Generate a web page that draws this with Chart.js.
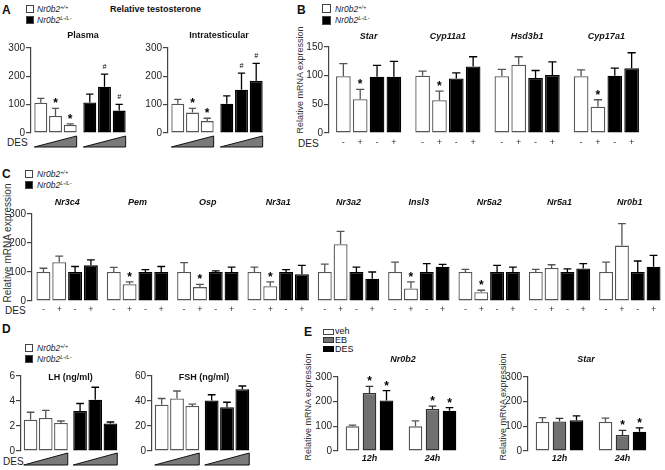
<!DOCTYPE html>
<html>
<head>
<meta charset="utf-8">
<script src="https://cdn.jsdelivr.net/npm/chart.js@4.4.1/dist/chart.umd.min.js"></script>
<style>
body { margin: 0; width: 665px; height: 470px; position: relative; background: #fff; overflow: hidden;
       font-family: 'Liberation Sans', Arial, sans-serif; color: #111; }
canvas { position: absolute; }
.t { position: absolute; white-space: nowrap; line-height: 1; }
.let { font-weight: bold; font-size: 12px; }
.lg { font-style: italic; font-size: 8.5px; color: #222; }
.lg span { font-size: 5.5px; position: relative; top: -3px; }
.des { font-size: 10px; color: #222; }
.sq { position: absolute; box-sizing: border-box; border: 1px solid #444; }
.yt { position: absolute; transform: translate(-50%, -50%) rotate(-90deg); white-space: nowrap;
      line-height: 1; color: #333; }
</style>
</head>
<body>
<!-- panel letters, legends and loose labels -->
<div class="t let" style="left:2px;top:4px">A</div>
<div class="sq" style="left:26px;top:5px;width:8px;height:8px;background:#fff"></div>
<div class="t lg" style="left:37px;top:5px">Nr0b2<span>+/+</span></div>
<div class="sq" style="left:26px;top:16px;width:8px;height:8px;background:#000"></div>
<div class="t lg" style="left:37px;top:16px">Nr0b2<span>L-/L-</span></div>
<div class="t" style="left:110px;top:5px;font-size:9px;font-weight:bold">Relative testosterone</div>
<div class="t des" style="left:7px;top:138px">DES</div>

<div class="t let" style="left:297px;top:4px">B</div>
<div class="sq" style="left:322px;top:4px;width:9px;height:9px;background:#fff"></div>
<div class="t lg" style="left:335px;top:5px">Nr0b2<span>+/+</span></div>
<div class="sq" style="left:322px;top:16px;width:9px;height:9px;background:#000"></div>
<div class="t lg" style="left:335px;top:16px">Nr0b2<span>L-/L-</span></div>
<div class="yt" style="left:300px;top:80px;font-size:9px">Relative mRNA expression</div>
<div class="t des" style="left:298px;top:139px">DES</div>

<div class="t let" style="left:2px;top:168px">C</div>
<div class="sq" style="left:25px;top:170px;width:8px;height:8px;background:#fff"></div>
<div class="t lg" style="left:37px;top:170px">Nr0b2<span>+/+</span></div>
<div class="sq" style="left:25px;top:181px;width:8px;height:8px;background:#000"></div>
<div class="t lg" style="left:37px;top:181px">Nr0b2<span>L-/L-</span></div>
<div class="yt" style="left:8px;top:243px;font-size:10px">Relative mRNA expression</div>
<div class="t des" style="left:5px;top:306px">DES</div>

<div class="t let" style="left:2px;top:323px">D</div>
<div class="sq" style="left:25px;top:344px;width:8px;height:8px;background:#fff"></div>
<div class="t lg" style="left:37px;top:344px">Nr0b2<span>+/+</span></div>
<div class="sq" style="left:25px;top:355px;width:8px;height:8px;background:#000"></div>
<div class="t lg" style="left:37px;top:355px">Nr0b2<span>L-/L-</span></div>
<div class="t des" style="left:3px;top:457px">DES</div>

<div class="t let" style="left:304px;top:326px">E</div>
<div class="sq" style="left:323px;top:329px;width:11px;height:6px;background:#fff"></div>
<div class="t" style="left:335px;top:327px;font-size:9px">veh</div>
<div class="sq" style="left:323px;top:337px;width:11px;height:6px;background:#707070;border-color:#333"></div>
<div class="t" style="left:335px;top:336px;font-size:9px">EB</div>
<div class="sq" style="left:323px;top:346px;width:11px;height:6px;background:#000;border-color:#000"></div>
<div class="t" style="left:335px;top:345px;font-size:9px">DES</div>
<div class="yt" style="left:308px;top:407px;font-size:9px">Relative mRNA expression</div>
<div class="yt" style="left:503px;top:407px;font-size:9px">Relative mRNA expression</div>

<canvas id="cPlasma"></canvas>
<canvas id="cIntra"></canvas>
<canvas id="cB"></canvas>
<canvas id="cC"></canvas>
<canvas id="cLH"></canvas>
<canvas id="cFSH"></canvas>
<canvas id="cENr"></canvas>
<canvas id="cEStar"></canvas>

<script>
// ---- data (means and SEM) ----
const genotypes = ['Nr0b2+/+', 'Nr0b2L-/L-'];
const desDoses = ['low', 'mid', 'high'];
const desSigns = ['-', '+', '-', '+'];

// A: relative testosterone
const plasmaWt = [107, 60, 28];
const plasmaWtSem = [15, 27, 4];
const plasmaKo = [108, 163, 79];
const plasmaKoSem = [29, 45, 22];
const plasmaWtSig = ['', '*', '*'];
const plasmaKoSig = ['', '#', '#'];
const intraWt = [103, 72, 42];
const intraWtSem = [16, 15, 10];
const intraKo = [103, 153, 184];
const intraKoSem = [28, 58, 62];
const intraWtSig = ['', '*', '*'];
const intraKoSig = ['', '#', '#'];

// B: steroidogenic genes
const bGenes = ['Star', 'Cyp11a1', 'Hsd3b1', 'Cyp17a1'];
const bWtVeh = [99, 100, 99, 99];
const bWtVehSem = [22, 8, 12, 11];
const bWtDes = [59, 57, 119, 46];
const bWtDesSem = [17, 16, 14, 12];
const bKoVeh = [98, 95, 96, 100];
const bKoVehSem = [20, 10, 13, 13];
const bKoDes = [98, 116, 101, 113];
const bKoDesSem = [27, 17, 23, 27];
const bWtDesSig = ['*', '*', '', '*'];

// C: other testis genes
const cGenes = ['Nr3c4', 'Pem', 'Osp', 'Nr3a1', 'Nr3a2', 'Insl3', 'Nr5a2', 'Nr5a1', 'Nr0b1'];
const cWtVeh = [100, 100, 100, 100, 100, 100, 100, 100, 100];
const cWtVehSem = [13, 16, 32, 17, 27, 34, 9, 9, 34];
const cWtDes = [134, 58, 48, 51, 196, 43, 30, 114, 191];
const cWtDesSem = [21, 8, 9, 15, 44, 23, 7, 11, 76];
const cKoVeh = [100, 100, 100, 100, 100, 100, 100, 100, 100];
const cKoVehSem = [19, 8, 4, 8, 17, 29, 23, 11, 38];
const cKoDes = [123, 100, 100, 92, 77, 118, 100, 112, 118];
const cKoDesSem = [19, 19, 17, 31, 23, 8, 17, 17, 39];
const cWtDesSig = ['', '*', '*', '*', '', '*', '*', '', ''];

// D: gonadotropins
const lhWt = [2.5, 2.65, 2.25];
const lhWtSem = [0.6, 0.6, 0.15];
const lhKo = [3.2, 4.1, 2.2];
const lhKoSem = [0.6, 1.0, 0.12];
const fshWt = [37, 42, 36];
const fshWtSem = [5, 6, 1.5];
const fshKo = [40.5, 35, 49.5];
const fshKoSem = [4.5, 4, 2.5];

// E: time course after EB / DES
const eTimes = ['12h', '24h'];
const eNr0b2Veh = [100, 100];
const eNr0b2VehSem = [5, 22];
const eNr0b2Eb = [235, 170];
const eNr0b2EbSem = [27, 12];
const eNr0b2Des = [205, 163];
const eNr0b2DesSem = [40, 13];
const eNr0b2EbSig = ['*', '*'];
const eNr0b2DesSig = ['*', '*'];
const eStarVeh = [118, 118];
const eStarVehSem = [17, 15];
const eStarEb = [120, 65];
const eStarEbSem = [12, 19];
const eStarDes = [125, 78];
const eStarDesSem = [17, 16];
const eStarEbSig = ['', '*'];
const eStarDesSig = ['', '*'];

const FONT = "'Liberation Sans', Arial, sans-serif";
Chart.defaults.font.family = FONT;
Chart.defaults.color = '#222';

const pick = (v, i) => Array.isArray(v) ? v[i] : v;

// y tick labels, error bars, significance marks, DES wedges, -/+ row and group names
const decor = {
    id: 'decor',
    afterDatasetsDraw(chart, args, o) {
        const { ctx, chartArea: a, scales: { y } } = chart;
        const groups = chart.data.labels.map(() => ({ l: 1e9, r: -1e9 }));
        ctx.save();

        // tick labels from the library's own ticks
        ctx.font = '10px ' + FONT;
        ctx.fillStyle = '#222';
        ctx.textAlign = 'right';
        ctx.textBaseline = 'middle';
        y.ticks.forEach((t, i) => {
            const txt = t.label !== undefined && t.label !== '' ? t.label : String(t.value);
            ctx.fillText(txt, y.right - 6, y.getPixelForTick(i));
        });

        ctx.textAlign = 'center';
        chart.data.datasets.forEach((ds, di) => {
            chart.getDatasetMeta(di).data.forEach((bar, i) => {
                const g = groups[i];
                g.l = Math.min(g.l, bar.x - bar.width / 2);
                g.r = Math.max(g.r, bar.x + bar.width / 2);
                const top = y.getPixelForValue(ds.data[i] + ds.sem[i]);
                const cap = bar.width * 0.28;
                ctx.strokeStyle = pick(ds.borderColor, i);
                ctx.lineWidth = 1.3;
                ctx.beginPath();
                ctx.moveTo(bar.x, bar.y);
                ctx.lineTo(bar.x, top);
                ctx.moveTo(bar.x - cap, top);
                ctx.lineTo(bar.x + cap, top);
                ctx.stroke();
                const mk = ds.marks ? ds.marks[i] : '';
                ctx.fillStyle = '#000';
                ctx.textBaseline = 'alphabetic';
                if (mk === '*') {
                    ctx.font = 'bold 12px ' + FONT;
                    ctx.fillText('*', bar.x, top - 1);
                } else if (mk === '#') {
                    ctx.font = 'italic 7px ' + FONT;
                    ctx.fillText('#', bar.x, top - 5);
                }
                if (ds.sign) {
                    ctx.font = '9px ' + FONT;
                    ctx.fillStyle = '#333';
                    ctx.textBaseline = 'middle';
                    ctx.fillText(ds.sign, bar.x, a.bottom + o.signDy);
                }
            });
        });
        if (o.wedge) {
            groups.forEach(g => {
                ctx.beginPath();
                ctx.moveTo(g.l, a.bottom + o.wedge[1]);
                ctx.lineTo(g.r, a.bottom + o.wedge[1]);
                ctx.lineTo(g.r, a.bottom + o.wedge[0]);
                ctx.closePath();
                ctx.fillStyle = '#7a7a7a';
                ctx.fill();
                ctx.strokeStyle = '#111';
                ctx.lineWidth = 1;
                ctx.stroke();
            });
        }
        ctx.fillStyle = '#111';
        ctx.textBaseline = 'middle';
        if (o.groupAt) {
            ctx.font = 'italic bold 9px ' + FONT;
            groups.forEach((g, i) => {
                const yy = o.groupAt === 'top' ? a.top + o.groupDy : a.bottom + o.groupDy;
                ctx.fillText(chart.data.labels[i], (g.l + g.r) / 2, yy);
            });
        }
        if (o.title) {
            ctx.font = (o.titleItalic ? 'italic bold 9px ' : 'bold 9px ') + FONT;
            ctx.fillText(o.title, (a.left + a.right) / 2 + (o.titleDx || 0), a.top + o.titleDy);
        }
        ctx.restore();
    }
};

// area = plot box [left, top, right, bottom]; m = margins [left, top, right, bottom]
function makeChart(id, labels, datasets, s) {
    const [L, T, R, B] = s.area, m = s.m;
    const cv = document.getElementById(id);
    cv.width = R - L + m[0] + m[2];
    cv.height = B - T + m[1] + m[3];
    cv.style.left = (L - m[0]) + 'px';
    cv.style.top = (T - m[1]) + 'px';
    return new Chart(cv, {
        type: 'bar',
        data: { labels: labels, datasets: datasets },
        options: {
            responsive: false,
            animation: false,
            devicePixelRatio: 1,
            layout: { padding: { left: 0, top: m[1], right: m[2], bottom: m[3] } },
            datasets: {
                bar: { categoryPercentage: s.cat, barPercentage: s.bar, borderWidth: 1.3, borderSkipped: false }
            },
            plugins: { legend: { display: false }, tooltip: { enabled: false }, decor: s.decor },
            scales: {
                x: { display: false },
                y: {
                    min: 0, max: s.max,
                    afterFit: sc => { sc.width = m[0]; },
                    ticks: { stepSize: s.step, display: false },
                    grid: { drawOnChartArea: false, tickLength: 5, color: '#444', lineWidth: 1.2 },
                    border: { color: '#444', width: 1.2 }
                }
            }
        },
        plugins: [decor]
    });
}

function doseSets(wt, wtSem, ko, koSem, wtSig, koSig) {
    return desDoses.map((d, k) => ({
        label: d,
        data: [wt[k], ko[k]],
        sem: [wtSem[k], koSem[k]],
        marks: [wtSig ? wtSig[k] : '', koSig ? koSig[k] : ''],
        backgroundColor: ['#fff', '#000'],
        borderColor: ['#555', '#000']
    }));
}

function condSets(means, sems, sigs) {
    return means.map((d, k) => ({
        label: (k < 2 ? genotypes[0] : genotypes[1]) + ' DES' + desSigns[k],
        data: d,
        sem: sems[k],
        marks: sigs[k],
        sign: desSigns[k],
        backgroundColor: k < 2 ? '#fff' : '#000',
        borderColor: k < 2 ? '#555' : '#000'
    }));
}

function timeSets(means, sems, sigs) {
    const names = ['veh', 'EB', 'DES'];
    const fills = ['#fff', '#707070', '#000'];
    const lines = ['#555', '#333', '#000'];
    return means.map((d, k) => ({
        label: names[k], data: d, sem: sems[k], marks: sigs[k],
        backgroundColor: fills[k], borderColor: lines[k]
    }));
}

// A
makeChart('cPlasma', genotypes, doseSets(plasmaWt, plasmaWtSem, plasmaKo, plasmaKoSem, plasmaWtSig, plasmaKoSig), {
    area: [31, 48, 129, 133], m: [28, 20, 3, 16], cat: 0.9, bar: 0.88, max: 300, step: 100,
    decor: { title: 'Plasma', titleDy: -12, titleDx: 3, wedge: [3, 14] }
});
makeChart('cIntra', genotypes, doseSets(intraWt, intraWtSem, intraKo, intraKoSem, intraWtSig, intraKoSig), {
    area: [168, 48, 266, 133], m: [28, 20, 3, 16], cat: 0.9, bar: 0.88, max: 300, step: 100,
    decor: { title: 'Intratesticular', titleDy: -12, titleDx: 2, wedge: [3, 14] }
});

// B
makeChart('cB', bGenes, condSets([bWtVeh, bWtDes, bKoVeh, bKoDes],
    [bWtVehSem, bWtDesSem, bKoVehSem, bKoDesSem], [null, bWtDesSig, null, null]), {
    area: [329, 47, 646, 133], m: [28, 18, 8, 16], cat: 0.85, bar: 0.87, max: 150, step: 50,
    decor: { groupAt: 'top', groupDy: -10, signDy: 10 }
});

// C
makeChart('cC', cGenes, condSets([cWtVeh, cWtDes, cKoVeh, cKoDes],
    [cWtVehSem, cWtDesSem, cKoVehSem, cKoDesSem], [null, cWtDesSig, null, null]), {
    area: [32, 214, 665, 301], m: [28, 18, 0, 16], cat: 0.9, bar: 0.88, max: 300, step: 100,
    decor: { groupAt: 'top', groupDy: -11, signDy: 9 }
});

// D
makeChart('cLH', genotypes, doseSets(lhWt, lhWtSem, lhKo, lhKoSem), {
    area: [21, 376, 120, 451], m: [20, 10, 4, 16], cat: 0.92, bar: 0.9, max: 6, step: 2,
    decor: { title: 'LH (ng/ml)', titleDy: 2, wedge: [2, 14] }
});
makeChart('cFSH', genotypes, doseSets(fshWt, fshWtSem, fshKo, fshKoSem), {
    area: [152, 376, 252, 451], m: [28, 10, 4, 16], cat: 0.92, bar: 0.9, max: 60, step: 20,
    decor: { title: 'FSH (ng/ml)', titleDy: 2, titleDx: 2, wedge: [2, 14] }
});

// E
makeChart('cENr', eTimes, timeSets([eNr0b2Veh, eNr0b2Eb, eNr0b2Des],
    [eNr0b2VehSem, eNr0b2EbSem, eNr0b2DesSem], [null, eNr0b2EbSig, eNr0b2DesSig]), {
    area: [338, 377, 464, 451], m: [28, 26, 4, 14], cat: 0.81, bar: 0.8, max: 300, step: 100,
    decor: { title: 'Nr0b2', titleItalic: true, titleDy: -17, titleDx: 2, groupAt: 'bottom', groupDy: 8 }
});
makeChart('cEStar', eTimes, timeSets([eStarVeh, eStarEb, eStarDes],
    [eStarVehSem, eStarEbSem, eStarDesSem], [null, eStarEbSig, eStarDesSig]), {
    area: [528, 377, 654, 451], m: [28, 26, 6, 14], cat: 0.81, bar: 0.8, max: 300, step: 100,
    decor: { title: 'Star', titleItalic: true, titleDy: -17, titleDx: -5, groupAt: 'bottom', groupDy: 8 }
});
</script>
</body>
</html>
